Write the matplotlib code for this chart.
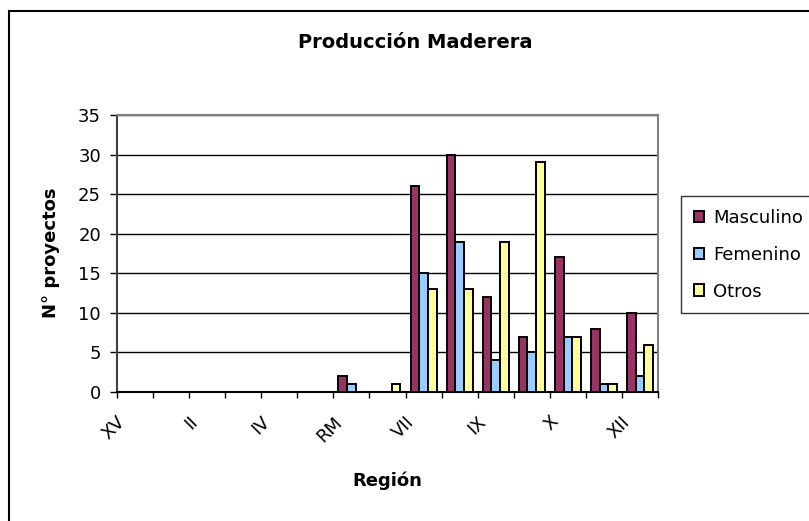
import numpy as np
import matplotlib.pyplot as plt
from matplotlib.patches import Rectangle
from matplotlib.transforms import ScaledTranslation

plt.rcParams['font.family'] = ['DejaVu Sans']

regiones = ["XV", "I", "II", "III", "IV", "V", "RM", "VI", "VII", "VIII",
            "IX", "XIV", "X", "XI", "XII"]
masculino = [0, 0, 0, 0, 0, 0, 2, 0, 26, 30, 12, 7, 17, 8, 10]
femenino = [0, 0, 0, 0, 0, 0, 1, 0, 15, 19, 4, 5, 7, 1, 2]
otros = [0, 0, 0, 0, 0, 0, 0, 1, 13, 13, 19, 29, 7, 1, 6]

W, H = 809, 521
fig = plt.figure(figsize=(W / 100, H / 100), dpi=100)
ax = fig.add_axes([117 / W, 1 - 392 / H, (658 - 117) / W, (392 - 115) / H])

x = np.arange(len(regiones))
bw = 0.24
kw = dict(edgecolor='black', linewidth=1.4, zorder=3)
ax.bar(x - bw, masculino, bw, color='#993366', label='Masculino', **kw)
ax.bar(x, femenino, bw, color='#99CCFF', label='Femenino', **kw)
ax.bar(x + bw, otros, bw, color='#FFFF99', label='Otros', **kw)

ax.set_xlim(-0.5, len(regiones) - 0.5)
ax.set_ylim(0, 35)
ax.set_yticks(range(0, 36, 5))
ax.yaxis.grid(True, color='black', linewidth=1)
ax.set_axisbelow(True)

# ticks between categories, labels at centers (every other one)
ax.set_xticks(np.arange(-0.5, len(regiones), 1))
ax.set_xticklabels([])
ax.set_xticks(x[::2], minor=True)
ax.set_xticklabels(regiones[::2], minor=True, rotation=45, ha='right',
                   va='top', fontsize=13)
ax.tick_params(axis='x', which='minor', length=0, pad=15)
ax.tick_params(axis='x', which='major', length=4.5, width=1, direction='out')
ax.tick_params(axis='y', length=5, width=1, labelsize=13, pad=6.5)
shift = ScaledTranslation(-6 / 100, 0, fig.dpi_scale_trans)
for lab in ax.get_xticklabels(minor=True):
    lab.set_transform(lab.get_transform() + shift)

for s in ['top', 'right']:
    ax.spines[s].set_color('#808080')
    ax.spines[s].set_linewidth(1.5)
ax.spines['left'].set_color('#404040')
ax.spines['left'].set_linewidth(1.5)
ax.spines['bottom'].set_color('black')
ax.spines['bottom'].set_linewidth(1.5)

fig.text(415 / W, 1 - 43 / H, "Producción Maderera", ha='center', va='center',
         fontsize=14, fontweight='bold')
fig.text(51 / W, 1 - 253 / H, "N° proyectos", ha='center', va='center',
         rotation=90, fontsize=13, fontweight='bold')
fig.text(387 / W, 1 - 481 / H, "Región", ha='center', va='center',
         fontsize=13, fontweight='bold')

leg = fig.legend(loc='upper left', bbox_to_anchor=(681 / W, 1 - 196 / H),
                 fontsize=13, frameon=True, fancybox=False,
                 handlelength=0.6, handleheight=0.6, handletextpad=0.5,
                 labelspacing=1.05, borderpad=0.7, borderaxespad=0)
leg.get_frame().set_edgecolor('black')
leg.get_frame().set_linewidth(1)

fig.add_artist(Rectangle((9 / W, -0.1), 1.2, 1.1 - 11 / H,
                         transform=fig.transFigure, fill=False,
                         edgecolor='black', linewidth=1.5))

fig.savefig("out.png", dpi=100)
